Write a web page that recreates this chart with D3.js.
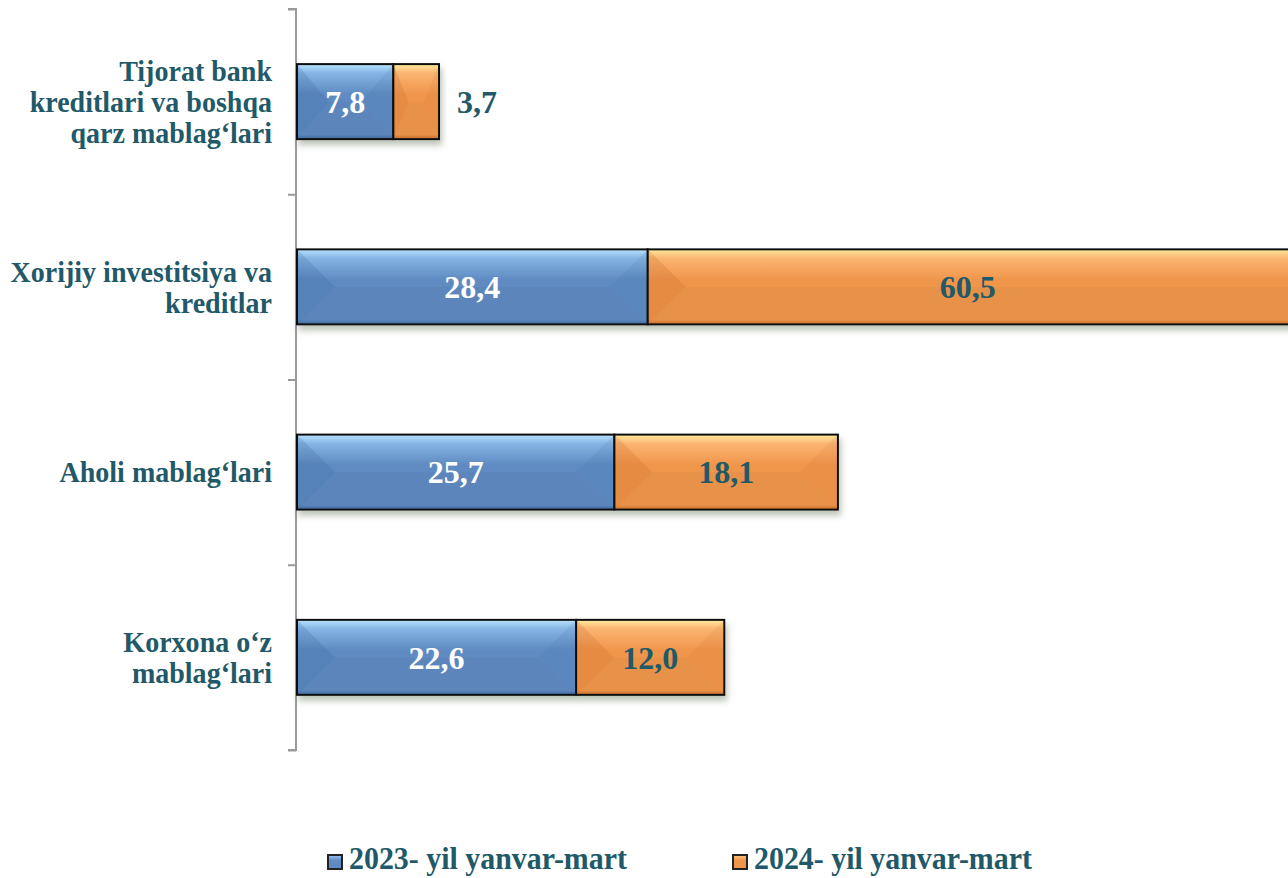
<!DOCTYPE html>
<html><head><meta charset="utf-8">
<script src="https://cdn.jsdelivr.net/npm/d3@7/dist/d3.min.js"></script>
<style>html,body{margin:0;padding:0;background:#fff;}svg{display:block;}</style>
</head><body>
<svg id="chart" width="1288" height="878"></svg>
<script>
const categories = [
  ["Tijorat bank", "kreditlari va boshqa", "qarz mablag‘lari"],
  ["Xorijiy investitsiya va", "kreditlar"],
  ["Aholi mablag‘lari"],
  ["Korxona o‘z", "mablag‘lari"]
];
const seriesNames = ["2023- yil yanvar-mart", "2024- yil yanvar-mart"];
const values2023 = [7.8, 28.4, 25.7, 22.6];
const values2024 = [3.7, 60.5, 18.1, 12.0];
const valueLabels2023 = ["7,8", "28,4", "25,7", "22,6"];
const valueLabels2024 = ["3,7", "60,5", "18,1", "12,0"];

const svg = d3.select("#chart");
const W = 1288, H = 878;
const teal = "#215968";
const font = "'Liberation Serif', 'Times New Roman', serif";

const keys = categories.map((c, i) => "c" + i);
const x = d3.scaleLinear().domain([0, 80]).range([297, 1285]);
const y = d3.scaleBand().domain(keys).range([9, 750]).paddingInner(0.595).paddingOuter(0.2975);

const defs = svg.append("defs");
const pal = [
  {base: "#5f8bc2", top: "#b8e4ff", mid: "#86b4e4", dark: "#3f6aa0"},
  {base: "#f0964c", top: "#ffeb9c", mid: "#fbb472", dark: "#c8702c"}
];
pal.forEach((p, i) => {
  const g = defs.append("linearGradient").attr("id", "g" + i).attr("x1", 0).attr("y1", 0).attr("x2", 0).attr("y2", 1);
  g.append("stop").attr("offset", "0").attr("stop-color", p.top);
  g.append("stop").attr("offset", "0.12").attr("stop-color", p.mid);
  g.append("stop").attr("offset", "0.4").attr("stop-color", p.base);
  g.append("stop").attr("offset", "0.94").attr("stop-color", p.base);
  g.append("stop").attr("offset", "1").attr("stop-color", p.dark);
});
const f = defs.append("filter").attr("id", "sh").attr("x", "-5%").attr("y", "-20%").attr("width", "110%").attr("height", "150%");
f.append("feDropShadow").attr("dx", 2).attr("dy", 5).attr("stdDeviation", 3).attr("flood-color", "#6a7a60").attr("flood-opacity", 0.45);

// axis
const axis = d3.axisLeft(d3.scaleLinear().domain([0, 4]).range([9, 750])).ticks(4).tickSize(8).tickFormat("");
const ag = svg.append("g").attr("transform", "translate(296,0)").call(axis);
ag.selectAll("path,line").attr("stroke", "#9a9a9a").attr("stroke-width", 2);
ag.select(".domain").attr("d", "M-8,9H0V750H-8");

const stacks = categories.map((c, i) => [
  {s: 0, x0: 0, x1: values2023[i], label: valueLabels2023[i]},
  {s: 1, x0: values2023[i], x1: values2023[i] + values2024[i], label: valueLabels2024[i]}
]);

const barsG = svg.append("g");
stacks.forEach((segs, i) => {
  const y0 = y(keys[i]), h = y.bandwidth();
  const row = barsG.append("g").attr("filter", "url(#sh)");
  segs.forEach(d => {
    const xa = x(d.x0), xb = x(d.x1), w = xb - xa;
    const g = row.append("g");
    g.append("rect").attr("x", xa).attr("y", y0).attr("width", w).attr("height", h).attr("fill", `url(#g${d.s})`);
    const b = Math.min(38, w * 0.33);
    const ym = y0 + h / 2;
    g.append("path").attr("d", `M${xa},${y0}L${xa + b},${ym}L${xa},${y0 + h}Z`).attr("fill", d.s ? "#b85a1a" : "#2c5a90").attr("opacity", 0.18);
    g.append("path").attr("d", `M${xb},${y0}L${xb - b},${ym}L${xb},${y0 + h}Z`).attr("fill", d.s ? "#c46a28" : "#3a6aa0").attr("opacity", 0.12);
    g.append("path").attr("d", `M${xa},${y0 + h}L${xa + b},${ym}L${xb - b},${ym}L${xb},${y0 + h}Z`).attr("fill", "#000").attr("opacity", 0.03);
    g.append("rect").attr("x", xa).attr("y", y0).attr("width", w).attr("height", h).attr("fill", "none").attr("stroke", "#111").attr("stroke-width", 2);
  });
});

// value labels
stacks.forEach((segs, i) => {
  const ym = y(keys[i]) + y.bandwidth() / 2;
  segs.forEach(d => {
    const w = x(d.x1) - x(d.x0);
    const inside = w > 60;
    const cx = inside ? (x(d.x0) + x(d.x1)) / 2 : x(d.x1) + 38;
    svg.append("text").attr("x", Math.min(cx, (x(d.x0) + W) / 2)).attr("y", ym).attr("dy", "0.35em")
      .attr("text-anchor", "middle").attr("font-family", font).attr("font-weight", "bold").attr("font-size", 32)
      .attr("fill", d.s === 0 ? "#fff" : teal).text(d.label);
  });
});

// category labels
categories.forEach((lines, i) => {
  const ym = y(keys[i]) + y.bandwidth() / 2;
  const lh = 31;
  const t = svg.append("text").attr("text-anchor", "end").attr("font-family", font).attr("font-weight", "bold")
    .attr("font-size", 29.5).attr("fill", teal).attr("transform", `translate(272,0) scale(0.95,1)`);
  lines.forEach((l, k) => {
    t.append("tspan").attr("x", 0).attr("y", ym + (k - (lines.length - 1) / 2) * lh).attr("dy", "0.35em").text(l);
  });
});

// legend
const legX = [328, 733];
seriesNames.forEach((n, i) => {
  const g = svg.append("g");
  g.append("rect").attr("x", legX[i]).attr("y", 855).attr("width", 14).attr("height", 14).attr("fill", `url(#g${i})`).attr("stroke", "#222").attr("stroke-width", 2);
  g.append("text").attr("transform", `translate(${legX[i] + 21},869) scale(0.965,1)`).attr("font-family", font).attr("font-weight", "bold")
    .attr("font-size", 31).attr("fill", teal).text(n);
});
</script>
</body></html>
